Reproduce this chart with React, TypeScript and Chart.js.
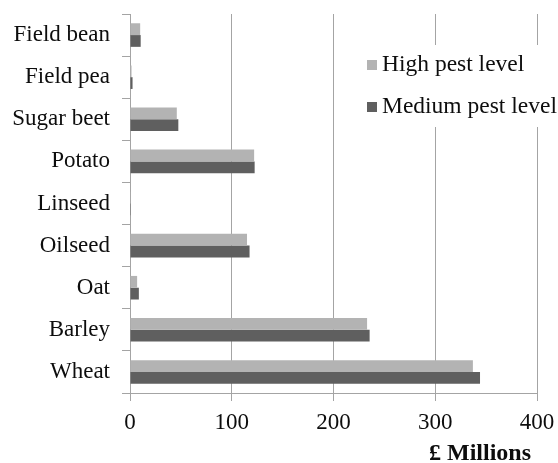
import React, { useEffect, useRef } from "react";
import { Chart, registerables } from "chart.js";

Chart.register(...registerables);

const categories = ["Field bean", "Field pea", "Sugar beet", "Potato", "Linseed", "Oilseed", "Oat", "Barley", "Wheat"];
const highPest = [10, 1.5, 46, 122, 0.8, 115, 7, 233, 337];
const mediumPest = [10.5, 2.5, 47.5, 122.5, 0.8, 117.5, 8.7, 235.5, 344];
const xTicks = [0, 100, 200, 300, 400];
const seriesNames = ["High pest level", "Medium pest level"];
const seriesColors = ["#b3b3b3", "#5f5f5f"];
const axisTitle = "£ Millions ";

const FONT = "'Liberation Serif', 'Times New Roman', serif";
const GRID = "#a4a4a4";
const TEXT = "#0d0d0d";

const legendPlugin = {
  id: "insideLegend",
  afterDraw(chart: any) {
    const { ctx } = chart;
    ctx.save();
    ctx.fillStyle = "#ffffff";
    ctx.fillRect(357, 45, 201, 82);
    ctx.font = `23.5px ${FONT}`;
    ctx.textBaseline = "middle";
    ctx.textAlign = "left";
    seriesNames.forEach((name, i) => {
      const cy = 65 + i * 42;
      ctx.fillStyle = seriesColors[i];
      ctx.fillRect(367, cy - 5, 10, 10);
      ctx.fillStyle = TEXT;
      ctx.fillText(name, 382, cy);
    });
    ctx.restore();
  },
};

export default function App() {
  const ref = useRef<HTMLCanvasElement>(null);
  useEffect(() => {
    if (!ref.current) return;
    const chart = new Chart(ref.current, {
      type: "bar",
      data: {
        labels: categories,
        datasets: [
          { label: seriesNames[0], data: highPest, backgroundColor: seriesColors[0], borderWidth: 0 },
          { label: seriesNames[1], data: mediumPest, backgroundColor: seriesColors[1], borderWidth: 0 },
        ],
      },
      options: {
        indexAxis: "y",
        animation: false,
        responsive: true,
        maintainAspectRatio: false,
        layout: { padding: { top: 14, right: 21, left: 0, bottom: 0 } },
        datasets: { bar: { categoryPercentage: 0.56, barPercentage: 1.0 } },
        plugins: { legend: { display: false }, tooltip: { enabled: false } },
        scales: {
          x: {
            min: 0,
            max: 400,
            afterBuildTicks: (scale: any) => {
              scale.ticks = xTicks.map((v) => ({ value: v }));
            },
            ticks: { font: { family: FONT, size: 23 }, color: TEXT, padding: 8 },
            grid: { color: GRID, tickLength: 8, lineWidth: 1 },
            border: { display: true, color: GRID },
            title: {
              display: true,
              text: axisTitle,
              align: "end",
              color: TEXT,
              font: { family: FONT, size: 24, weight: "bold", lineHeight: 0.8 },
              padding: 0,
            },
            afterFit: (scale: any) => {
              scale.height = 70;
              scale.paddingLeft = 0;
              scale.paddingRight = 0;
            },
          },
          y: {
            ticks: { font: { family: FONT, size: 23 }, color: TEXT, padding: 12 },
            grid: { color: GRID, tickLength: 8, drawOnChartArea: false, offset: true },
            border: { display: true, color: GRID },
            afterFit: (scale: any) => {
              scale.width = 130;
              scale.paddingTop = 0;
              scale.paddingBottom = 0;
            },
          },
        },
      } as any,
      plugins: [legendPlugin],
    });
    return () => chart.destroy();
  }, []);
  return (
    <div style={{ position: "fixed", left: 0, top: 0, width: 558, height: 463, background: "#fff" }}>
      <canvas ref={ref} />
    </div>
  );
}
